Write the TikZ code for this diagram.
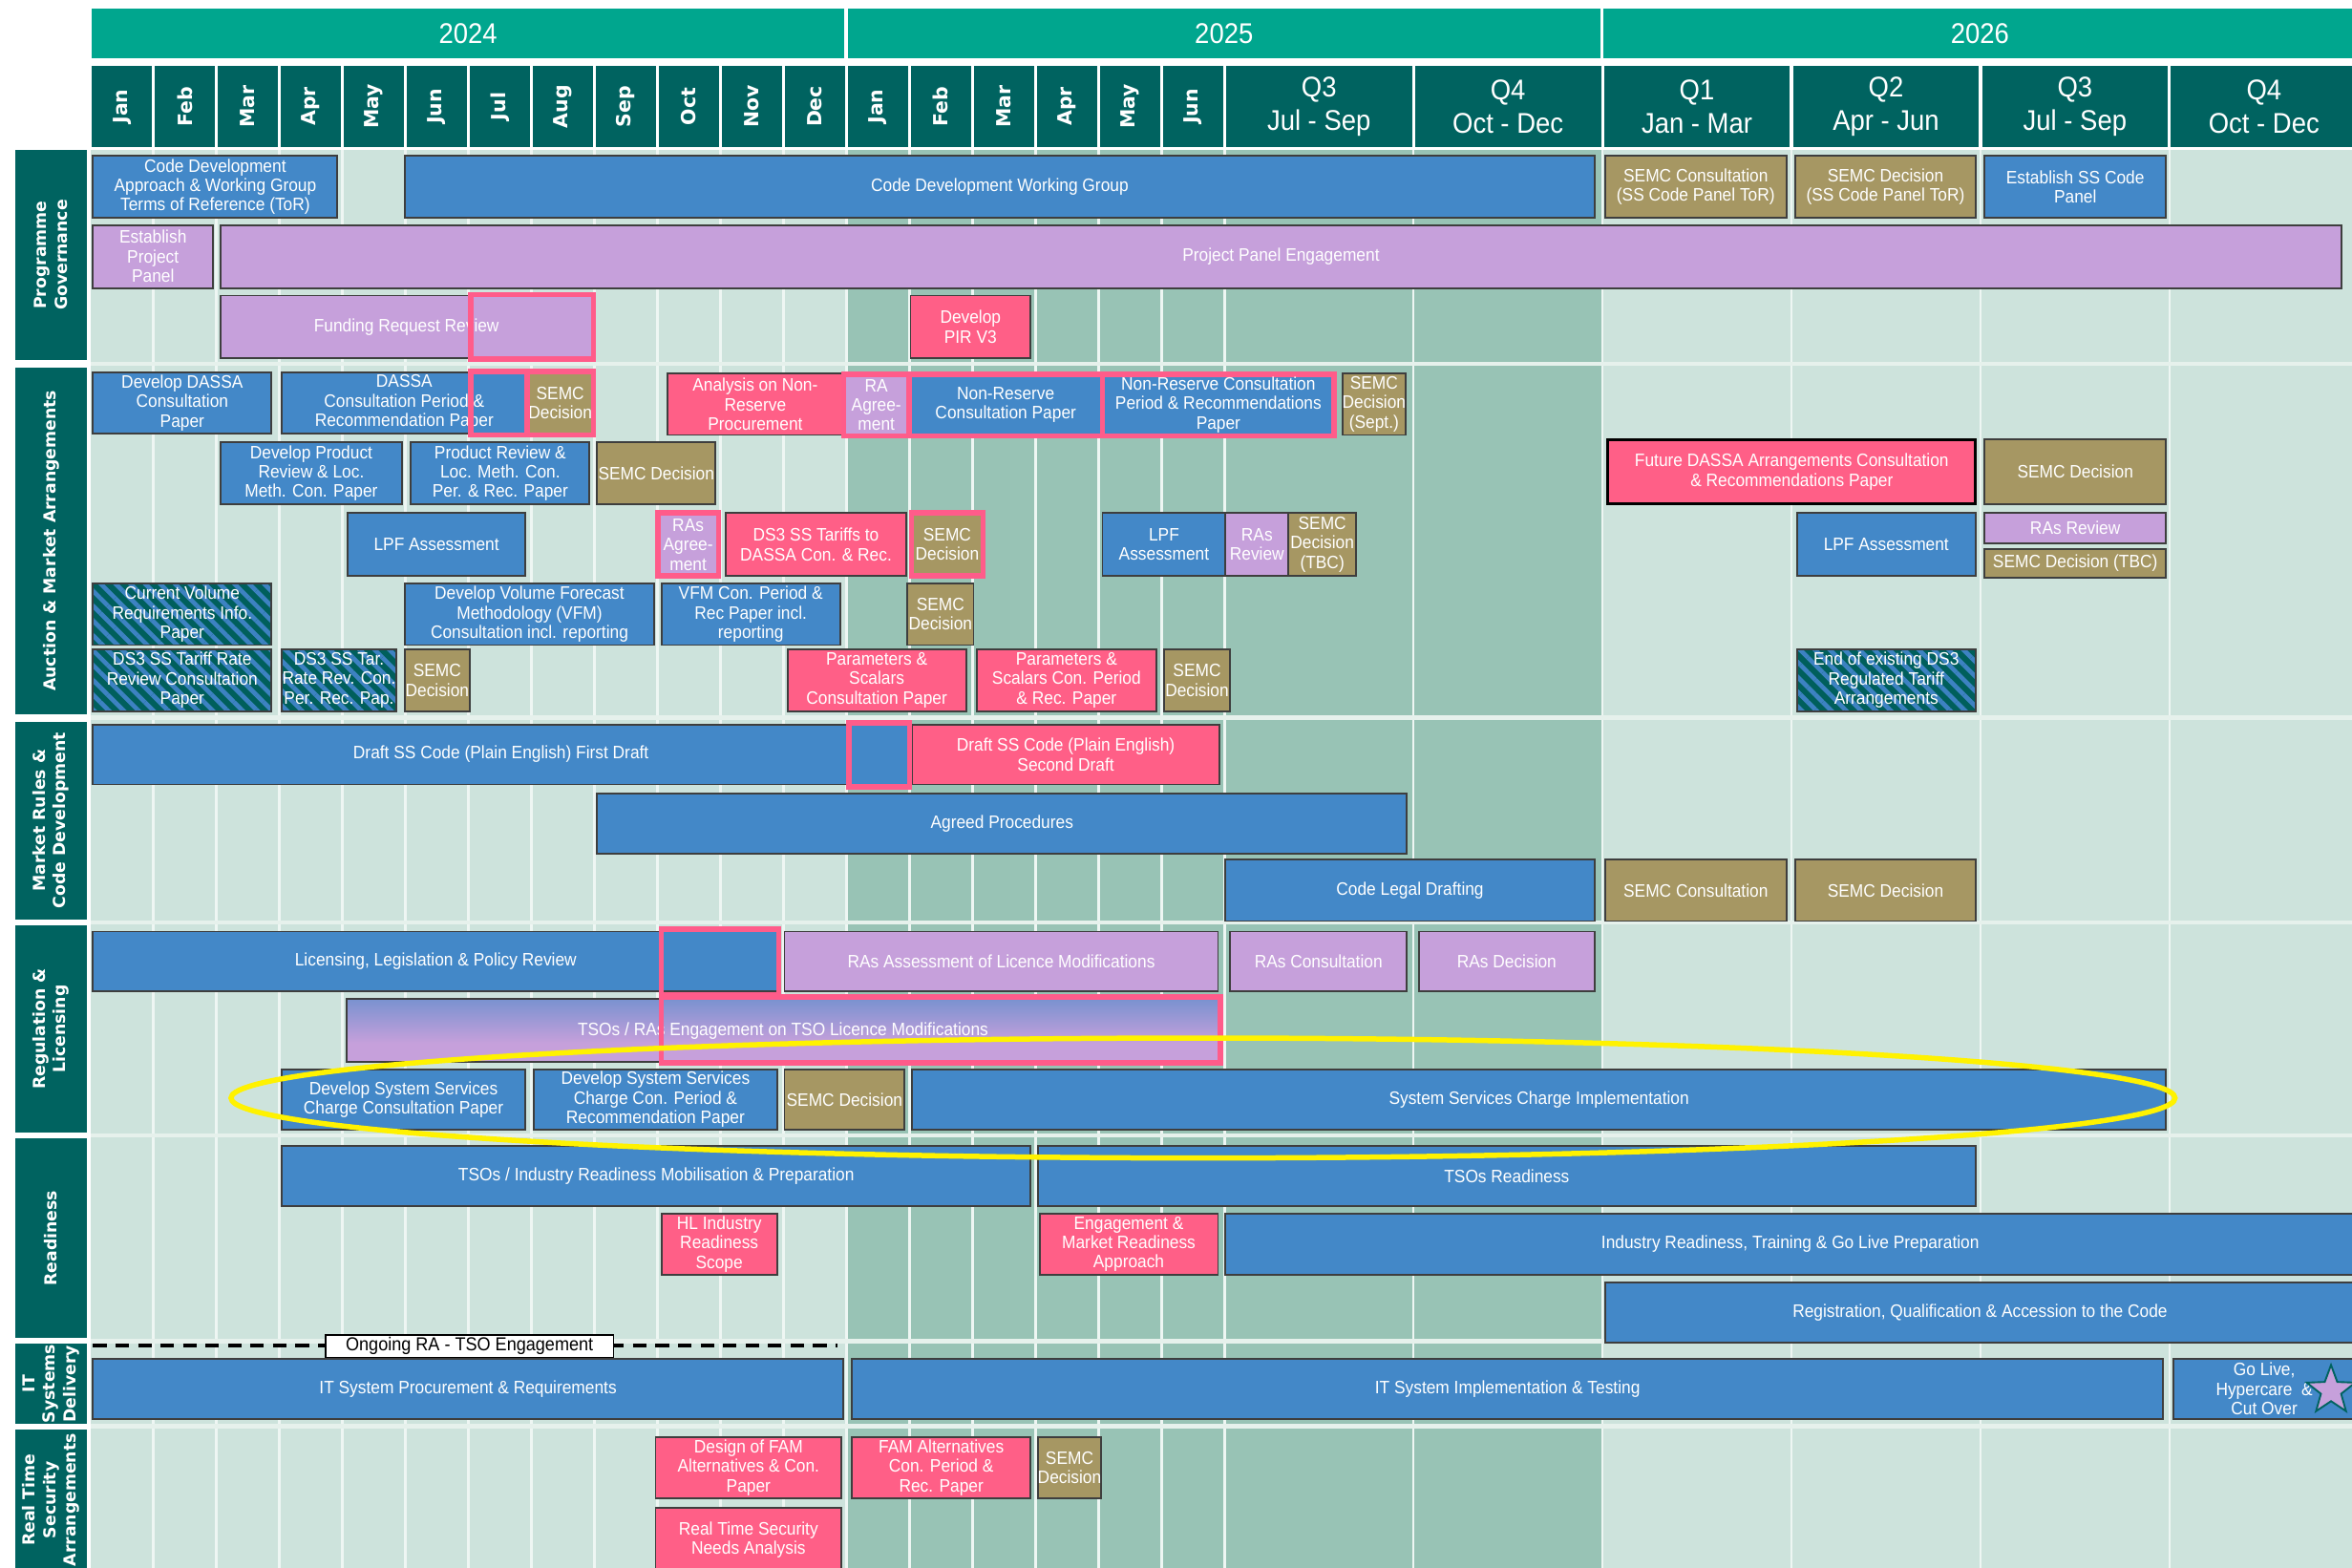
\documentclass[tikz,border=0pt]{standalone}
\usepackage{fontspec}
\setmainfont{Liberation Sans}[FakeStretch=0.92]
\newfontfamily\vfont{DejaVu Sans}
\usetikzlibrary{shapes.geometric,patterns.meta}
\definecolor{yearC}{HTML}{00A68E}
\definecolor{monC}{HTML}{006360}
\definecolor{bgL}{HTML}{CDE3DC}
\definecolor{bgD}{HTML}{98C3B5}
\definecolor{blueC}{HTML}{4388C8}
\definecolor{lilacC}{HTML}{C6A0DB}
\definecolor{pinkC}{HTML}{FF5F87}
\definecolor{oliveC}{HTML}{A69763}
\definecolor{hlC}{HTML}{FF5C8A}
\definecolor{bordC}{HTML}{3E3E3E}
\definecolor{hatchC}{HTML}{005F5C}
\definecolor{hatchL}{HTML}{3D82C2}
\definecolor{sepC}{HTML}{E6F1EC}
\definecolor{gridC}{HTML}{EEF6F3}
\pgfdeclareverticalshading{tsograd}{100bp}{color(0bp)=(lilacC); color(40bp)=(lilacC); color(100bp)=(blueC)}
\newcommand\tkfont{\fontsize{12}{13}\selectfont}
\newcommand\monfont{\vfont\bfseries\fontsize{13}{15}\selectfont}
\newcommand\lanefont{\vfont\bfseries\fontsize{11}{13.5}\selectfont}
\newcommand\gtask[7]{%
  \pgfmathsetmacro\tkw{#5-(#3)}%
  \pgfmathsetmacro\tkh{#6-(#4)}%
  \pgfmathsetmacro\tkx{(#3+#5)/2}%
  \pgfmathsetmacro\tky{(#4+#6)/2}%
  \node[taskbox,#2,minimum width=\tkw pt,minimum height=\tkh pt] (#1) at (\tkx,\tky) {};%
  \node[tasktext] (#1-t) at (#1.center) {#7};%
}
\newcommand\glane[4]{%
  \pgfmathsetmacro\tkh{#3-(#2)}%
  \pgfmathsetmacro\tky{(#2+#3)/2}%
  \node[lanebox,minimum height=\tkh pt] (#1) at (34,\tky) {};%
  \node[lanetext] (#1-t) at (#1.center) {#4};%
}
\begin{document}
\begin{tikzpicture}[x=1pt,y=-1pt,
  taskbox/.style={rectangle,draw=bordC,line width=1.2pt,inner sep=0pt},
  tasktext/.style={text=white,align=center,inner sep=0pt,font=\tkfont},
  tblue/.style={fill=blueC},
  tlilac/.style={fill=lilacC},
  tpink/.style={fill=pinkC},
  tolive/.style={fill=oliveC},
  thatch/.style={preaction={fill=hatchC},pattern={Lines[angle=-45,distance=7pt,line width=3pt]},pattern color=hatchL},
  tgrad/.style={shade,shading=tsograd},
  hlbox/.style={draw=hlC,line width=3.5pt},
  hl/.style={draw=hlC,line width=3.5pt},
  lanebox/.style={rectangle,fill=monC,minimum width=48pt,inner sep=0pt},
  lanetext/.style={rotate=90,text=white,align=center,font=\lanefont,inner sep=0pt},
  yearcell/.style={rectangle,fill=yearC,minimum height=33pt,inner sep=0pt,text=white,font=\fontsize{19}{21}\selectfont},
  moncell/.style={rectangle,fill=monC,minimum width=40pt,minimum height=54pt,inner sep=0pt},
  montext/.style={rotate=90,text=white,font=\monfont,inner sep=0pt},
  qcell/.style={rectangle,fill=monC,minimum width=124pt,minimum height=54pt,inner sep=0pt},
  qtext/.style={text=white,align=center,font=\fontsize{19}{22}\selectfont,inner sep=0pt},
  gridln/.style={draw=gridC,line width=1.6pt},
  sepln/.style={draw=sepC,line width=3pt}
]
\useasboundingbox (0,0) rectangle (1568,1044.7);
\fill[white] (0,0) rectangle (1568,1044.7);
% chart body
\fill[bgL] (60.3,100) rectangle (1570,1047);
\fill[bgD] (564,100) rectangle (1068,1047);
\foreach \m in {1,...,18,21,24,27,30,33} \draw[gridln] ({60.3+42*\m},100) -- ({60.3+42*\m},1047);
\foreach \y in {242.5,478.5,615,757,894,951} \draw[sepln] (60.3,\y) -- (1570,\y);
% header
\node[yearcell,minimum width=502pt] (y2024) at (312,22.5) {2024};
\node[yearcell,minimum width=502pt] (y2025) at (816,22.5) {2025};
\node[yearcell,minimum width=502pt] (y2026) at (1320,22.5) {2026};
\foreach \m/\n in {0/Jan,1/Feb,2/Mar,3/Apr,4/May,5/Jun,6/Jul,7/Aug,8/Sep,9/Oct,10/Nov,11/Dec,12/Jan,13/Feb,14/Mar,15/Apr,16/May,17/Jun}{
  \node[moncell] (mc\m) at ({81.3+42*\m},71) {};
  \node[montext] (mt\m) at (mc\m.center) {\n};
}
\foreach \m/\q/\r in {18/Q3/Jul - Sep,21/Q4/Oct - Dec,24/Q1/Jan - Mar,27/Q2/Apr - Jun,30/Q3/Jul - Sep,33/Q4/Oct - Dec}{
  \node[qcell] (qc\m) at ({123.3+42*\m},71) {};
  \node[qtext] (qt\m) at (qc\m.center) {\q\\\r};
}
% lanes
\glane{lpg}{100}{240}{Programme\\Governance}
\glane{lama}{245}{476}{Auction \& Market Arrangements}
\glane{lmr}{481}{613}{Market Rules \&\\Code Development}
\glane{lrl}{617}{755}{Regulation \&\\Licensing}
\glane{lrd}{759}{892}{Readiness}
\glane{lit}{896}{949}{IT\\Systems\\Delivery}
\glane{lrt}{953}{1047}{Real Time\\Security\\Arrangements}
% Programme Governance
\gtask{pg1}{tblue}{62}{104}{225}{145}{Code Development\\Approach \& Working Group\\Terms of Reference (ToR)}
\gtask{pg2}{tblue}{270}{104}{1063}{145}{Code Development Working Group}
\gtask{pg3}{tolive}{1070}{104}{1191}{145}{SEMC Consultation\\(SS Code Panel ToR)}
\gtask{pg4}{tolive}{1197}{104}{1317}{145}{SEMC Decision\\(SS Code Panel ToR)}
\gtask{pg5}{tblue}{1323}{104}{1444}{145}{Establish SS Code\\Panel}
\gtask{pg6}{tlilac}{62}{150}{142}{192}{Establish\\Project\\Panel}
\gtask{pg7}{tlilac}{147}{150}{1561}{192}{Project Panel Engagement}
\gtask{pg8}{tlilac}{147}{197}{395}{239}{Funding Request Review}
\gtask{pg9}{tpink}{607}{197}{687}{239}{Develop\\PIR V3}
% Auction & Market Arrangements
\gtask{a1}{tblue}{62}{248}{181}{289}{Develop DASSA\\Consultation\\Paper}
\gtask{a2}{tblue}{188}{248}{351}{289}{DASSA\\Consultation Period \&\\Recommendation Paper}
\gtask{a3}{tolive,hlbox}{351.5}{247.5}{395.5}{290}{SEMC\\Decision}
\gtask{a4}{tpink}{445}{249}{562}{290}{Analysis on Non-\\Reserve\\Procurement}
\gtask{a5}{tlilac,hlbox}{562.5}{249.5}{606}{290.5}{RA\\Agree-\\ment}
\gtask{a6}{tblue,hlbox}{606}{249.5}{735}{290.5}{Non-Reserve\\Consultation Paper}
\gtask{a7}{tblue,hlbox}{735}{249.5}{889.5}{290.5}{Non-Reserve Consultation\\Period \& Recommendations\\Paper}
\gtask{a8}{tolive}{895}{249}{937}{290}{SEMC\\Decision\\(Sept.)}
\gtask{a9}{tblue}{147}{295}{268}{336}{Develop Product\\Review \& Loc.\\Meth. Con. Paper}
\gtask{a10}{tblue}{274}{295}{393}{336}{Product Review \&\\Loc. Meth. Con.\\Per. \& Rec. Paper}
\gtask{a11}{tolive}{398}{295}{477}{336}{SEMC Decision}
\gtask{a12}{tpink,draw=black,line width=2pt}{1072}{293}{1317}{336}{Future DASSA Arrangements Consultation\\\& Recommendations Paper}
\gtask{a13}{tolive}{1323}{293}{1444}{336}{SEMC Decision}
\gtask{a14}{tblue}{232}{342}{350}{384}{LPF Assessment}
\gtask{a15}{tlilac,hlbox}{438.5}{342}{479}{384}{RAs\\Agree-\\ment}
\gtask{a16}{tpink}{484}{342}{604}{384}{DS3 SS Tariffs to\\DASSA Con. \& Rec.}
\gtask{a17}{tolive,hlbox}{607.5}{342}{655.5}{384}{SEMC\\Decision}
\gtask{a18}{tblue}{735}{342}{817}{384}{LPF\\Assessment}
\gtask{a19}{tlilac}{817}{342}{859}{384}{RAs\\Review}
\gtask{a20}{tolive}{859}{342}{904}{384}{SEMC\\Decision\\(TBC)}
\gtask{a21}{tblue}{1198}{342}{1317}{384}{LPF Assessment}
\gtask{a22}{tlilac}{1323}{342}{1444}{362}{RAs Review}
\gtask{a23}{tolive}{1323}{366}{1444}{385}{SEMC Decision (TBC)}
\gtask{a24}{thatch}{62}{389}{181}{430}{Current Volume\\Requirements Info.\\Paper}
\gtask{a25}{tblue}{270}{389}{436}{430}{Develop Volume Forecast\\Methodology (VFM)\\Consultation incl. reporting}
\gtask{a26}{tblue}{441}{389}{560}{430}{VFM Con. Period \&\\Rec Paper incl.\\reporting}
\gtask{a27}{tolive}{605}{389}{649}{430}{SEMC\\Decision}
\gtask{a28}{thatch}{62}{433}{181}{474}{DS3 SS Tariff Rate\\Review Consultation\\Paper}
\gtask{a29}{thatch}{188}{433}{264}{474}{DS3 SS Tar.\\Rate Rev. Con.\\Per. Rec. Pap.}
\gtask{a30}{tolive}{270}{433}{313}{474}{SEMC\\Decision}
\gtask{a31}{tpink}{525}{433}{644}{474}{Parameters \&\\Scalars\\Consultation Paper}
\gtask{a32}{tpink}{651}{433}{771}{474}{Parameters \&\\Scalars Con. Period\\\& Rec. Paper}
\gtask{a33}{tolive}{776}{433}{820}{474}{SEMC\\Decision}
\gtask{a34}{thatch}{1198}{433}{1317}{474}{End of existing DS3\\Regulated Tariff\\Arrangements}
% Market Rules & Code Development
\gtask{m1}{tblue}{62}{483}{606}{523}{Draft SS Code (Plain English) First Draft}
\gtask{m2}{tpink}{608}{483}{813}{523}{Draft SS Code (Plain English)\\Second Draft}
\gtask{m3}{tblue}{398}{529}{938}{569}{Agreed Procedures}
\gtask{m4}{tblue}{817}{573}{1063}{614}{Code Legal Drafting}
\gtask{m5}{tolive}{1070}{573}{1191}{614}{SEMC Consultation}
\gtask{m6}{tolive}{1197}{573}{1317}{614}{SEMC Decision}
% Regulation & Licensing
\gtask{r1}{tblue}{62}{621}{519}{661}{Licensing, Legislation \& Policy Review}
\gtask{r2}{tlilac}{523}{621}{812}{661}{RAs Assessment of Licence Modifications}
\gtask{r3}{tlilac}{820}{621}{938}{661}{RAs Consultation}
\gtask{r4}{tlilac}{946}{621}{1063}{661}{RAs Decision}
\gtask{r5}{tgrad}{231}{666}{813}{708}{TSOs / RAs Engagement on TSO Licence Modifications}
\gtask{r6}{tblue}{188}{713}{350}{753}{Develop System Services\\Charge Consultation Paper}
\gtask{r7}{tblue}{356}{713}{518}{753}{Develop System Services\\Charge Con. Period \&\\Recommendation Paper}
\gtask{r8}{tolive}{523}{713}{603}{753}{SEMC Decision}
\gtask{r9}{tblue}{608}{713}{1444}{753}{System Services Charge Implementation}
% Readiness
\gtask{d1}{tblue}{188}{764}{687}{804}{TSOs / Industry Readiness Mobilisation \& Preparation}
\gtask{d2}{tblue}{692}{764}{1317}{804}{TSOs Readiness}
\gtask{d3}{tpink}{441}{809}{518}{850}{HL Industry\\Readiness\\Scope}
\gtask{d4}{tpink}{693}{809}{812}{850}{Engagement \&\\Market Readiness\\Approach}
\gtask{d5}{tblue}{817}{809}{1570}{850}{Industry Readiness, Training \& Go Live Preparation}
\gtask{d6}{tblue}{1070}{855}{1570}{895}{Registration, Qualification \& Accession to the Code}
% IT Systems Delivery
\gtask{i1}{tblue}{62}{906}{562}{946}{IT System Procurement \& Requirements}
\gtask{i2}{tblue}{568}{906}{1442}{946}{IT System Implementation \& Testing}
\gtask{i3}{tblue}{1449}{906}{1570}{946}{Go Live,\\Hypercare \ \&\\Cut Over}
\node[star,star points=5,star point ratio=2.4,minimum size=34pt,inner sep=0pt,fill=lilacC,draw=monC,line width=1.2pt] (star) at (1554,927) {};
% Real Time Security Arrangements
\gtask{s1}{tpink}{437}{958}{561}{999}{Design of FAM\\Alternatives \& Con.\\Paper}
\gtask{s2}{tpink}{568}{958}{687}{999}{FAM Alternatives\\Con. Period \&\\Rec. Paper}
\gtask{s3}{tolive}{692}{958}{734}{999}{SEMC\\Decision}
\gtask{s4}{tpink}{437}{1005}{561}{1048}{Real Time Security\\Needs Analysis}
% pink highlight outlines
\draw[hl] (314,196.5) rectangle (395.5,239.5);
\draw[hl] (314,247.5) rectangle (351.5,290);
\draw[hl] (566,482) rectangle (606.5,524.5);
\draw[hl] (441,619.5) rectangle (519,663);
\draw[hl] (441,664.5) rectangle (813.5,708.5);
% ongoing engagement
\coordinate (dl) at (62,897);
\coordinate (dr) at (558,897);
\draw[black,line width=2.5pt,dash pattern=on 9pt off 6pt] (dl) -- (dr);
\node[rectangle,draw=black,fill=white,line width=1pt,minimum width=192pt,minimum height=15pt,inner sep=0pt,text=black,font=\fontsize{12.5}{14}\selectfont] (ongo) at (313,897.5) {Ongoing RA - TSO Engagement};
% yellow ellipse
\coordinate (ellc) at (802,732);
\draw[yellow,line width=3.5pt] (ellc) ellipse [x radius=648pt,y radius=40pt];
\end{tikzpicture}
\end{document}
